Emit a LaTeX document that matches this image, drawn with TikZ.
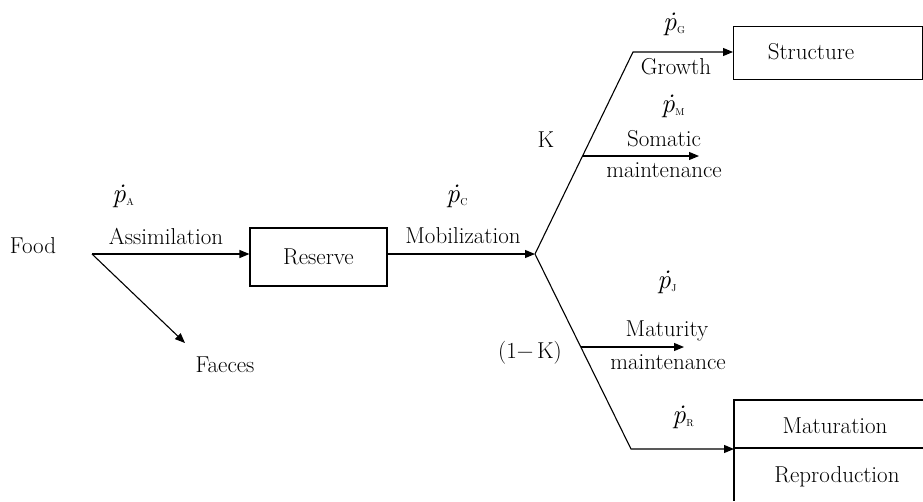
\documentclass[tikz,border=0pt]{standalone}
\usepackage{fontspec}
\setmainfont{Latin Modern Roman}
\usetikzlibrary{arrows.meta}
\newcommand\flux[1]{{\fontsize{27}{30}\selectfont\textit{\.{p}}}\kern0.5pt\raisebox{-3pt}{\fontsize{10}{10}\selectfont #1}}
\begin{document}
\begin{tikzpicture}[x=1pt,y=-1pt,
  font=\fontsize{23}{27}\selectfont,
  line width=1.1pt,
  flow/.style={-{Triangle[length=10pt,width=8pt]}},
  lbl/.style={inner sep=0pt, align=center},
  boxnode/.style={draw, inner sep=0pt}]
\useasboundingbox (0,0) rectangle (923,501);

% boxes
\node[boxnode, minimum width=137pt, minimum height=58pt] (reserve) at (318.5,257) {Reserve};
\node[boxnode, anchor=north west, minimum width=189pt, minimum height=53pt] (struct) at (733,26) {};
\node[lbl] (structtxt) at (811,52) {Structure};
\coordinate (mtl) at (734,400);
\coordinate (mtr) at (923,400);
\coordinate (mbl) at (734,501);
\coordinate (mdl) at (734,448);
\coordinate (mdr) at (923,448);
\draw (mtr) -- (mtl) -- (mbl);
\draw (mdl) -- (mdr);
\node[lbl] (matur) at (835,426) {Maturation};
\node[lbl] (repro) at (837,477) {Reproduction};

% texts
\node[lbl] (food) at (33,246) {Food};
\node[lbl] (faeces) at (225,365) {Faeces};
\node[lbl] (pA) at (123,196) {\flux{A}};
\node[lbl] (assim) at (166,236) {Assimilation};
\node[lbl] (pC) at (457,196) {\flux{C}};
\node[lbl] (mobil) at (463,236) {Mobilization};
\node[lbl] (kappa) at (546,140) {K};
\node[lbl] (pG) at (674,24) {\flux{G}};
\node[lbl] (growth) at (676,67) {Growth};
\node[lbl] (pM) at (673,106) {\flux{M}};
\node[lbl] (somatic) at (664,139) {Somatic};
\node[lbl] (smaint) at (664,170) {maintenance};
\node[lbl] (onemk) at (530,353) {(1−\,K)};
\node[lbl] (pJ) at (667,282) {\flux{J}};
\node[lbl] (maturity) at (667,331) {Maturity};
\node[lbl] (mmaint) at (668,362) {maintenance};
\node[lbl] (pR) at (683,417) {\flux{R}};

% connectors
\coordinate (fsrc) at (92,254);
\coordinate (ftip) at (185,343);
\coordinate (br) at (535,254);
\coordinate (ubend) at (633,52);
\coordinate (sb) at (583,156);
\coordinate (stip) at (699,156);
\coordinate (dbend) at (631,449);
\coordinate (mb) at (581,347);
\coordinate (mtip) at (684,347);

\draw[flow] (fsrc) -- (fsrc -| reserve.west);
\draw[flow] (fsrc) -- (ftip);
\draw[flow] (reserve.east |- br) -- (br);
\draw[flow] (br) -- (ubend) -- (ubend -| struct.west);
\draw[flow] (sb) -- (stip);
\draw[flow] (br) -- (dbend) -- (dbend -| mdl);
\draw[flow] (mb) -- (mtip);
\end{tikzpicture}
\end{document}
